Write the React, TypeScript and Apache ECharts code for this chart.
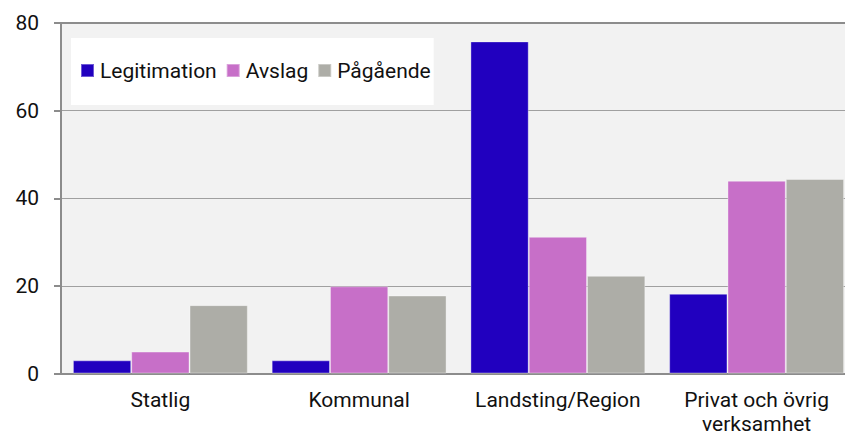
import React, { useEffect, useRef } from "react";
import * as echarts from "echarts";

const categories = ["Statlig", "Kommunal", "Landsting/Region", "Privat och övrig\nverksamhet"];
const legitimation = [3, 3, 75.8, 18.2];
const avslag = [5, 19.9, 31.2, 44.0];
const pagaende = [15.6, 17.8, 22.3, 44.4];
const yTicks = [0, 20, 40, 60, 80];

const FONT = "Roboto";

export default function App() {
  const ref = useRef<HTMLDivElement>(null);
  useEffect(() => {
    if (!ref.current) return;
    const chart = echarts.init(ref.current, undefined, { renderer: "svg" });
    chart.setOption({
      animation: false,
      backgroundColor: "#ffffff",
      textStyle: { fontFamily: FONT },
      grid: {
        left: 61,
        top: 23,
        right: -11,
        bottom: 62.5,
        containLabel: false,
        outerBoundsMode: "none",
        show: true,
        backgroundColor: "#f2f2f2",
        borderWidth: 0,
      },
      legend: {
        left: 71,
        top: 38,
        orient: "horizontal",
        backgroundColor: "#ffffff",
        padding: [22, 3, 24, 9],
        itemWidth: 13,
        itemHeight: 13,
        itemGap: 9,
        icon: "rect",
        textStyle: {
          fontFamily: FONT,
          fontSize: 21,
          lineHeight: 21,
          color: "#111111",
          padding: [0, 0, 0, 1],
        },
        data: ["Legitimation", "Avslag", "Pågående"],
      },
      xAxis: [
        {
          type: "category",
          data: categories,
          axisLine: { show: true, lineStyle: { color: "#8c8c8c", width: 2 } },
          axisTick: { show: false },
          axisLabel: {
            fontFamily: FONT,
            fontSize: 21,
            color: "#111111",
            margin: 14,
            lineHeight: 24,
            interval: 0,
          },
        },
        {
          type: "category",
          position: "top",
          data: categories,
          axisLine: { show: true, lineStyle: { color: "#8c8c8c", width: 2 } },
          axisTick: { show: false },
          axisLabel: { show: false },
        },
      ],
      yAxis: {
        type: "value",
        min: yTicks[0],
        max: yTicks[yTicks.length - 1],
        interval: 20,
        axisLine: { show: true, lineStyle: { color: "#8c8c8c", width: 2 } },
        axisTick: { show: true, length: 7, lineStyle: { color: "#8c8c8c", width: 2 } },
        splitLine: { show: true, lineStyle: { color: "#a0a0a0", width: 1 } },
        axisLabel: { fontFamily: FONT, fontSize: 21, color: "#111111", margin: 22 },
      },
      series: [
        {
          name: "Legitimation",
          type: "bar",
          data: legitimation,
          barGap: "0%",
          barCategoryGap: "12%",
          itemStyle: { color: "#2100bf", borderColor: "rgba(255,255,255,0.35)", borderWidth: 1 },
        },
        {
          name: "Avslag",
          type: "bar",
          data: avslag,
          barGap: "0%",
          barCategoryGap: "12%",
          itemStyle: { color: "#c76fc8", borderColor: "rgba(255,255,255,0.35)", borderWidth: 1 },
        },
        {
          name: "Pågående",
          type: "bar",
          data: pagaende,
          barGap: "0%",
          barCategoryGap: "12%",
          itemStyle: { color: "#adada7", borderColor: "rgba(255,255,255,0.35)", borderWidth: 1 },
        },
      ],
    });
    return () => chart.dispose();
  }, []);
  return (
    <div
      ref={ref}
      style={{ position: "fixed", left: 0, top: 0, width: 845, height: 436 }}
    />
  );
}
